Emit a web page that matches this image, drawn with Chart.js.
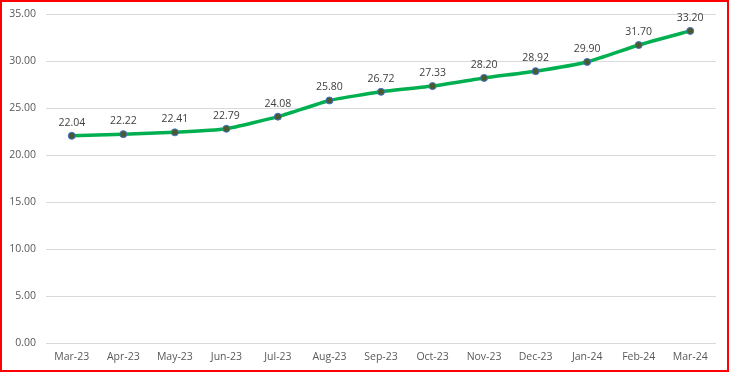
<!DOCTYPE html>
<html>
<head>
<meta charset="utf-8">
<script src="https://cdn.jsdelivr.net/npm/chart.js@4"></script>
<style>
  html, body { margin: 0; padding: 0; background: #fff; }
  #wrap { width: 729px; height: 372px; box-sizing: border-box; border: 2px solid #ff0000; position: relative; }
  #wrap canvas { display: block; }
</style>
</head>
<body>
<div id="wrap"><canvas id="priceChart" width="725" height="368"></canvas></div>
<script>
const months = ['Mar-23', 'Apr-23', 'May-23', 'Jun-23', 'Jul-23', 'Aug-23', 'Sep-23',
                'Oct-23', 'Nov-23', 'Dec-23', 'Jan-24', 'Feb-24', 'Mar-24'];
const values = [22.04, 22.22, 22.41, 22.79, 24.08, 25.80, 26.72, 27.33, 28.20, 28.92, 29.90, 31.70, 33.20];
const yTicks = [0, 5, 10, 15, 20, 25, 30, 35];

const textColor = '#595959';
const fontFamily = '"Open Sans", sans-serif';

// data labels above each point
const pointLabels = {
    id: 'pointLabels',
    afterDatasetsDraw(chart) {
        const ctx = chart.ctx;
        const meta = chart.getDatasetMeta(0);
        ctx.save();
        ctx.font = '10.5px ' + fontFamily;
        ctx.fillStyle = '#404040';
        ctx.textAlign = 'center';
        ctx.textBaseline = 'middle';
        meta.data.forEach((pt, i) => {
            ctx.fillText(values[i].toFixed(2), pt.x, pt.y - 13);
        });
        ctx.restore();
    }
};

new Chart(document.getElementById('priceChart'), {
    type: 'line',
    data: {
        labels: months,
        datasets: [{
            data: values,
            borderColor: '#00b050',
            borderWidth: 3.5,
            tension: 0.15,
            pointRadius: 3.5,
            pointBackgroundColor: '#4a5a2e',
            pointBorderColor: '#4472c4',
            pointBorderWidth: 1
        }]
    },
    options: {
        responsive: false,
        animation: false,
        layout: { padding: { top: 12, right: 11, left: 0, bottom: 0 } },
        plugins: {
            legend: { display: false },
            tooltip: { enabled: false }
        },
        scales: {
            x: {
                offset: true,
                grid: { display: false, drawTicks: false },
                border: { display: false },
                ticks: { color: textColor, font: { family: fontFamily, size: 10.5 }, padding: 8, maxRotation: 0 },
                afterFit(scale) { scale.height = 27; }
            },
            y: {
                min: 0,
                max: 35,
                afterBuildTicks(scale) { scale.ticks = yTicks.map(v => ({ value: v })); },
                grid: { color: '#d9d9d9', drawTicks: false },
                border: { display: false },
                ticks: {
                    color: textColor,
                    font: { family: fontFamily, size: 10.5 },
                    padding: 10,
                    callback: v => Number(v).toFixed(2)
                },
                afterFit(scale) {
                    scale.width = 44;
                    scale.paddingTop = 0;
                    scale.paddingBottom = 0;
                }
            }
        }
    },
    plugins: [pointLabels]
});
</script>
</body>
</html>
